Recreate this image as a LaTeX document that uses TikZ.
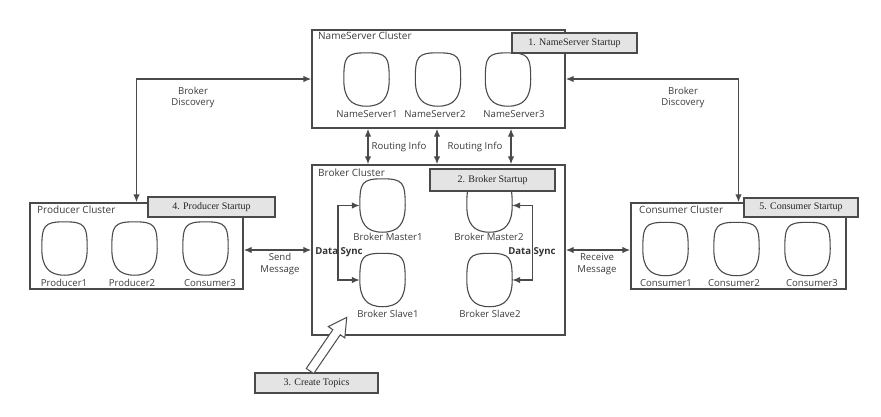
\documentclass[tikz,border=0pt]{standalone}
\usepackage{fontspec}
\setmainfont{Liberation Serif}
\newfontfamily\labfont{Open Sans}
\usetikzlibrary{arrows.meta}
\definecolor{edge}{HTML}{4A4A4A}
\definecolor{txt}{HTML}{3C3C3C}
\definecolor{boxfill}{HTML}{E4E4E4}
\begin{document}
\begin{tikzpicture}[x=1pt,y=-1pt,
  cluster/.style={draw=edge,line width=1.4pt,inner sep=0pt,fill=white},
  srv/.style={minimum width=45pt,minimum height=53pt,inner sep=0pt},
  srvline/.style={draw=edge,line width=1.1pt},
  startbox/.style={draw=edge,line width=1.3pt,fill=boxfill,inner sep=0pt,font=\fontsize{10}{12}\selectfont,text=black!85},
  lbl/.style={font=\labfont\fontsize{9.6}{11.5}\selectfont,text=txt,inner sep=0pt,align=center},
  ttl/.style={lbl,anchor=base west,font=\labfont\fontsize{10}{12}\selectfont},
  sync/.style={font=\labfont\bfseries\fontsize{9.6}{11.5}\selectfont,text=black!80,inner sep=0pt},
  conn/.style={draw=edge,line width=1.4pt,{Latex[length=8pt,width=6.5pt]}-{Latex[length=8pt,width=6.5pt]}}
]
\useasboundingbox (0,0) rectangle (881,416);
\fill[white] (0,0) rectangle (881,416);

% clusters
\node[cluster,minimum width=253pt,minimum height=98pt] (ns) at (438.5,79) {};
\node[cluster,minimum width=253pt,minimum height=170pt] (broker) at (438.5,250) {};
\node[cluster,minimum width=213pt,minimum height=86pt] (prod) at (136.5,246) {};
\node[cluster,minimum width=215pt,minimum height=86pt] (cons) at (738.5,246) {};

% cluster titles
\node[ttl] (tns) at (318,39) {NameServer Cluster};
\node[ttl] (tbr) at (318,176) {Broker Cluster};
\node[ttl] (tpr) at (37,213) {Producer Cluster};
\node[ttl] (tco) at (639,213) {Consumer Cluster};

% servers
\node[srv] (ns1) at (366.5,79.5) {};
\node[srv] (ns2) at (438,79.5) {};
\node[srv] (ns3) at (508,79.5) {};
\node[srv] (bm1) at (382.5,205.5) {};
\node[srv] (bm2) at (489.5,205.5) {};
\node[srv] (bs1) at (382.5,280) {};
\node[srv] (bs2) at (489.5,280) {};
\node[srv] (p1) at (64.5,248.5) {};
\node[srv] (p2) at (134.5,248.5) {};
\node[srv] (pc3) at (205.5,248.5) {};
\node[srv] (c1) at (665.5,249) {};
\node[srv] (c2) at (736.5,249) {};
\node[srv] (c3) at (807.5,249) {};
\foreach \n in {ns1,ns2,ns3,bm1,bm2,bs1,bs2,p1,p2,pc3,c1,c2,c3}{
  \draw[srvline] (\n.north)
    .. controls +(20.5,0) and +(0,-23) .. (\n.east)
    .. controls +(0,18) and +(16,0) .. (\n.south)
    .. controls +(-16,0) and +(0,18) .. (\n.west)
    .. controls +(0,-23) and +(-20.5,0) .. (\n.north) -- cycle;
}

% server labels
\node[lbl] (lns1) at (367,114) {NameServer1};
\node[lbl] (lns2) at (435,114) {NameServer2};
\node[lbl] (lns3) at (514,114) {NameServer3};
\node[lbl] (lbm1) at (388,237) {Broker Master1};
\node[lbl] (lbm2) at (489,237) {Broker Master2};
\node[lbl] (lbs1) at (388,314) {Broker Slave1};
\node[lbl] (lbs2) at (490,314) {Broker Slave2};
\node[lbl] (lp1) at (64,283) {Producer1};
\node[lbl] (lp2) at (132,283) {Producer2};
\node[lbl] (lpc3) at (210,283) {Consumer3};
\node[lbl] (lc1) at (666,283) {Consumer1};
\node[lbl] (lc2) at (734,283) {Consumer2};
\node[lbl] (lc3) at (812,283) {Consumer3};

% startup boxes
\node[startbox,minimum width=125pt,minimum height=20pt] (s1) at (574.5,43) {1. NameServer Startup};
\node[startbox,minimum width=125pt,minimum height=22pt] (s2) at (492.5,180) {2. Broker Startup};
\node[startbox,minimum width=123pt,minimum height=20pt] (s3) at (316.5,383) {3. Create Topics};
\node[startbox,minimum width=127pt,minimum height=20pt] (s4) at (211.5,207) {4. Producer Startup};
\node[startbox,minimum width=114pt,minimum height=19pt] (s5) at (801,207.5) {5. Consumer Startup};

% broker discovery
\draw[conn] (ns.west) -| (prod.north);
\draw[conn] (ns.east) -| (cons.north);
\node[lbl] (bd1) at (193,97.5) {Broker\\Discovery};
\node[lbl] (bd2) at (683,97.5) {Broker\\Discovery};

% routing info
\coordinate (r1) at (368,0);
\coordinate (r2) at (437,0);
\coordinate (r3) at (511,0);
\draw[conn] (ns.south -| r1) -- (broker.north -| r1);
\draw[conn] (ns.south -| r2) -- (broker.north -| r2);
\draw[conn] (ns.south -| r3) -- (broker.north -| r3);
\node[lbl] (ri1) at (399,147) {Routing Info};
\node[lbl] (ri2) at (475,147) {Routing Info};

% send / receive
\draw[conn] (broker.west -| prod.east) -- (broker.west);
\draw[conn] (broker.east) -- (broker.east -| cons.west);
\node[lbl] (sm) at (280,264) {Send\\Message};
\node[lbl] (rm) at (597,264) {Receive\\Message};

% data sync
\draw[conn] (bm1.west) -- ++(-22,0) |- (bs1.west);
\draw[conn] (bm2.east) -- ++(20,0) |- (bs2.east);
\node[sync] (ds1) at (339,252) {Data Sync};
\node[sync] (ds2) at (532,252) {Data Sync};

% create topics arrow
\begin{scope}[shift={(310,371)},rotate=55.6]
\draw[draw=edge,line width=1pt,fill=white,line join=miter]
  (0,-4.5) -- (47,-4.5) -- (47,-10) -- (65,0) -- (47,10) -- (47,4.5) -- (0,4.5) -- cycle;
\end{scope}
\end{tikzpicture}
\end{document}
